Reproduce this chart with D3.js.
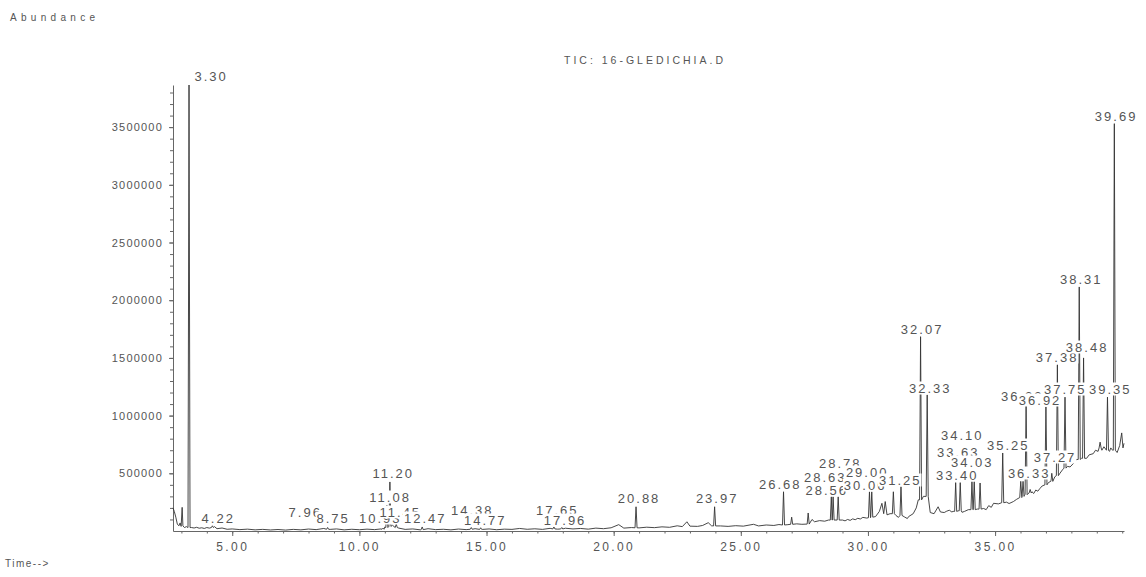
<!DOCTYPE html>
<html>
<head>
<meta charset="utf-8">
<script src="https://cdn.jsdelivr.net/npm/d3@7"></script>
<style>
body { margin: 0; background: #fff; }
svg text { font-family: "Liberation Sans", Arial, sans-serif; fill: #555; }
.axis path, .axis line { stroke: #666; }
</style>
</head>
<body>
<div id="chart-area"></div>
<script>
// chromatogram: TIC of 16-GLEDICHIA.D

// baseline of the trace: [time (min), abundance]
const baseline = [
	[2.67, 200000], [2.72, 170000], [2.78, 120000], [2.84, 60000], [2.9, 45000], [2.95, 70000],
	[2.99, 40000], [3.03, 205000], [3.06, 45000], [3.12, 30000], [3.2, 38000], [3.4, 30000],
	[3.5, 26000], [3.6, 32000], [3.7, 24000], [3.8, 28000], [3.9, 22000], [4.0, 30000],
	[4.1, 25000], [4.3, 38000], [4.4, 20000], [4.6, 26000], [4.8, 15000], [5.0, 18000],
	[5.3, 12000], [5.6, 16000], [5.9, 10000], [6.2, 14000], [6.5, 9000], [6.8, 13000],
	[7.1, 8000], [7.4, 14000], [7.7, 10000], [8.0, 17000], [8.3, 12000], [8.6, 22000],
	[8.85, 14000], [9.1, 18000], [9.4, 10000], [9.7, 15000], [10.0, 11000], [10.3, 16000],
	[10.6, 12000], [10.85, 18000], [11.0, 35000], [11.3, 50000], [11.55, 25000], [11.8, 14000],
	[12.1, 18000], [12.4, 10000], [12.7, 20000], [13.0, 12000], [13.3, 15000], [13.6, 10000],
	[13.9, 17000], [14.2, 12000], [14.55, 20000], [14.85, 14000], [15.1, 18000], [15.4, 11000],
	[15.7, 16000], [16.0, 14000], [16.3, 22000], [16.6, 15000], [16.9, 19000], [17.2, 14000],
	[17.5, 23000], [17.8, 16000], [18.1, 24000], [18.4, 18000], [18.7, 22000], [19.0, 16000],
	[19.3, 25000], [19.6, 20000], [19.9, 28000], [20.2, 55000], [20.4, 25000], [20.7, 30000],
	[21.0, 27000], [21.3, 33000], [21.6, 29000], [21.9, 36000], [22.2, 32000], [22.5, 45000],
	[22.7, 38000], [22.88, 80000], [23.0, 42000], [23.3, 40000], [23.5, 48000], [23.72, 72000],
	[23.85, 45000], [24.2, 44000], [24.5, 40000], [24.8, 46000], [25.1, 42000], [25.5, 58000],
	[25.7, 44000], [26.0, 52000], [26.3, 48000], [26.5, 56000], [26.85, 55000], [27.2, 62000],
	[27.4, 58000], [27.8, 100000], [27.9, 80000], [28.1, 90000], [28.3, 85000], [28.45, 95000],
	[29.0, 95000], [29.1, 88000], [29.2, 100000], [29.3, 92000], [29.4, 105000], [29.5, 98000],
	[29.6, 110000], [29.7, 104000], [29.8, 118000], [29.95, 112000],
	[30.3, 125000], [30.45, 170000], [30.55, 240000], [30.62, 150000], [30.68, 255000], [30.75, 140000],
	[30.87, 150000], [31.1, 135000], [31.2, 118000], [31.45, 120000], [31.55, 108000], [31.6, 125000],
	[31.78, 150000], [31.9, 200000],
	[31.98, 270000], [32.18, 300000], [32.45, 160000], [32.6, 150000], [32.76, 210000], [32.85, 165000],
	[33.0, 160000], [33.1, 172000], [33.2, 180000], [33.3, 165000], [33.35, 170000], [33.55, 175000],
	[33.7, 162000], [33.8, 170000], [33.95, 185000],
	[34.3, 190000], [34.55, 195000], [34.65, 185000], [34.75, 220000], [34.85, 205000], [34.94, 240000],
	[35.13, 235000], [35.45, 250000], [35.55, 238000],
	[35.72, 255000], [35.85, 275000], [36.05, 300000], [36.15, 310000], [36.28, 320000], [36.45, 340000],
	[36.52, 325000], [36.6, 355000], [36.68, 345000], [36.77, 370000], [36.85, 390000], [37.1, 420000],
	[37.2, 440000], [37.35, 470000],
	[37.55, 500000], [37.65, 530000], [37.85, 560000], [37.95, 555000], [38.1, 590000], [38.2, 620000],
	[38.27, 620000], [38.4, 630000], [38.6, 630000], [38.7, 660000], [38.86, 670000], [38.95, 700000],
	[39.05, 690000], [39.2, 700000], [39.28, 730000], [39.5, 690000], [39.55, 720000], [39.62, 700000],
	[39.8, 680000], [39.9, 740000], [39.98, 850000], [40.03, 720000], [40.07, 760000]
]

// peaks: [retention time, abundance at foot, abundance at apex]
const peaks = [
	[3.30, 30000, 3865000], [4.22, 30000, 45000], [8.75, 15000, 30000], [10.93, 15000, 25000],
	[11.08, 30000, 225000], [11.20, 40000, 425000], [11.45, 30000, 60000], [12.47, 12000, 35000],
	[14.40, 15000, 30000], [14.77, 14000, 28000], [17.65, 18000, 35000], [17.96, 18000, 30000],
	[20.88, 28000, 210000], [23.97, 44000, 210000], [26.68, 52000, 340000], [27.0, 58000, 120000],
	[27.65, 60000, 156000], [28.56, 95000, 297000], [28.63, 95000, 297000], [28.83, 95000, 297000],
	[30.06, 115000, 340000], [30.15, 120000, 340000], [31.0, 150000, 340000], [31.30, 135000, 384000],
	[32.07, 270000, 1684000], [32.33, 300000, 1180000], [33.45, 170000, 419000], [33.63, 175000, 419000],
	[34.09, 185000, 428000], [34.18, 185000, 428000], [34.41, 190000, 416000], [35.30, 245000, 676000],
	[36.01, 290000, 430000], [36.10, 300000, 430000], [36.22, 315000, 1090000], [36.38, 330000, 360000],
	[37.00, 400000, 1075000], [37.23, 430000, 500000], [37.45, 480000, 1440000], [37.75, 545000, 1160000],
	[38.31, 620000, 2115000], [38.48, 630000, 1500000], [39.13, 720000, 770000], [39.42, 700000, 1160000],
	[39.69, 700000, 3530000]
]

// peak labels as printed, with the point (time, abundance) the text is centred on
const labelText = ["3.30", "4.22", "7.96", "8.75", "10.93", "11.20", "11.08", "11.45", "12.47", "14.38",
	"14.77", "17.65", "17.96", "20.88", "23.97", "26.68", "28.56", "28.63", "28.78", "29.00", "30.06",
	"31.25", "32.07", "32.33", "33.40", "33.63", "34.10", "34.03", "35.25", "36.22", "36.33", "36.92",
	"37.27", "37.38", "37.75", "38.31", "38.48", "39.35", "39.69"]
const labelTime = [4.17, 4.45, 7.87, 8.97, 10.82, 11.33, 11.21, 11.61, 12.59, 14.44,
	14.95, 17.78, 18.09, 21.00, 24.07, 26.55, 28.38, 28.32, 28.91, 29.97, 29.89,
	31.27, 32.13, 32.45, 33.51, 33.55, 33.71, 34.10, 35.52, 36.07, 36.34, 36.77,
	37.36, 37.44, 37.76, 38.39, 38.62, 39.53, 39.76]
const labelLevel = [3943000, 112700, 164700, 112700, 112700, 502600, 294600, 164700, 112700, 182000,
	95300, 182000, 95300, 286000, 286000, 407300, 355300, 468000, 589300, 511300, 398600,
	442000, 1750500, 1239200, 485300, 684600, 832000, 598000, 745300, 1170000, 502600, 1135200,
	641300, 1507900, 1230600, 2183800, 1594500, 1230600, 3596400]

// axis ticks
const xTicks = [5, 10, 15, 20, 25, 30, 35]
const yTicks = [500000, 1000000, 1500000, 2000000, 2500000, 3000000, 3500000]

const MARGIN = { LEFT: 173, RIGHT: 22, TOP: 85, BOTTOM: 46 }
const WIDTH = 1146 - MARGIN.LEFT - MARGIN.RIGHT
const HEIGHT = 577 - MARGIN.TOP - MARGIN.BOTTOM

const svg = d3.select("#chart-area").append("svg")
	.attr("width", WIDTH + MARGIN.LEFT + MARGIN.RIGHT)
	.attr("height", HEIGHT + MARGIN.TOP + MARGIN.BOTTOM)

const g = svg.append("g")
	.attr("transform", `translate(${MARGIN.LEFT}, ${MARGIN.TOP})`)

// scales
const x = d3.scaleLinear().domain([2.67, 40.07]).range([0, WIDTH])
const y = d3.scaleLinear().domain([0, 3865000]).range([HEIGHT, 0])

// page texts
svg.append("text")
	.attr("x", 10).attr("y", 21)
	.style("font-size", "10px").style("letter-spacing", "4.3px")
	.text("Abundance")

svg.append("text")
	.attr("x", 5).attr("y", 567)
	.style("font-size", "10px").style("letter-spacing", "1.5px")
	.text("Time-->")

svg.append("text")
	.attr("x", 645).attr("y", 64)
	.attr("text-anchor", "middle")
	.style("font-size", "10.5px").style("letter-spacing", "3px")
	.text("TIC: 16-GLEDICHIA.D")

// minor ticks
g.append("g")
	.attr("class", "axis")
	.call(d3.axisLeft(y).tickValues(d3.range(100000, 3865000, 100000)).tickSize(3).tickFormat(""))
	.call(a => a.select(".domain").remove())
g.append("g")
	.attr("class", "axis")
	.attr("transform", `translate(0, ${HEIGHT})`)
	.call(d3.axisBottom(x).tickValues(d3.range(3, 41, 1)).tickSize(2.5).tickFormat(""))
	.call(a => a.select(".domain").remove())

// main axes
const yAxis = g.append("g")
	.attr("class", "axis")
	.call(d3.axisLeft(y).tickValues(yTicks).tickSize(4).tickSizeOuter(0).tickPadding(6)
		.tickFormat(d3.format("d")))
yAxis.selectAll("text")
	.style("font-size", "11px").style("letter-spacing", "1.2px").attr("fill", "#555")

const xAxis = g.append("g")
	.attr("class", "axis")
	.attr("transform", `translate(0, ${HEIGHT})`)
	.call(d3.axisBottom(x).tickValues(xTicks).tickSize(5).tickSizeOuter(0).tickPadding(6)
		.tickFormat(d3.format(".2f")))
xAxis.selectAll("text")
	.style("font-size", "12px").style("letter-spacing", "2.4px").attr("fill", "#555")

// build the trace: baseline readings plus each peak as foot - apex - foot
const HALF = 0.04
const trace = baseline.map(d => [d[0], d[1]])
peaks.forEach(p => {
	trace.push([p[0] - HALF, p[1]], [p[0], p[2]], [p[0] + HALF, p[1]])
})
trace.sort((a, b) => a[0] - b[0])

const line = d3.line()
	.x(d => x(d[0]))
	.y(d => y(d[1]))

g.append("path")
	.datum(trace)
	.attr("fill", "none")
	.attr("stroke", "#333")
	.attr("stroke-width", 0.9)
	.attr("stroke-linejoin", "round")
	.attr("d", line)

// peak labels, later ones painted over earlier ones like the printout
const order = d3.range(labelText.length)
	.sort((a, b) => parseFloat(labelText[a]) - parseFloat(labelText[b]))

order.forEach(i => {
	const lg = g.append("g")
	const txt = lg.append("text")
		.attr("x", x(labelTime[i]))
		.attr("y", y(labelLevel[i]))
		.attr("dy", "0.36em")
		.attr("text-anchor", "middle")
		.style("font-size", "13px")
		.style("letter-spacing", "2px")
		.text(labelText[i])
	const bb = txt.node().getBBox()
	lg.insert("rect", "text")
		.attr("x", bb.x - 1)
		.attr("y", y(labelLevel[i]) - 6.5)
		.attr("width", bb.width + 1)
		.attr("height", 13)
		.attr("fill", "#fff")
})
</script>
</body>
</html>
